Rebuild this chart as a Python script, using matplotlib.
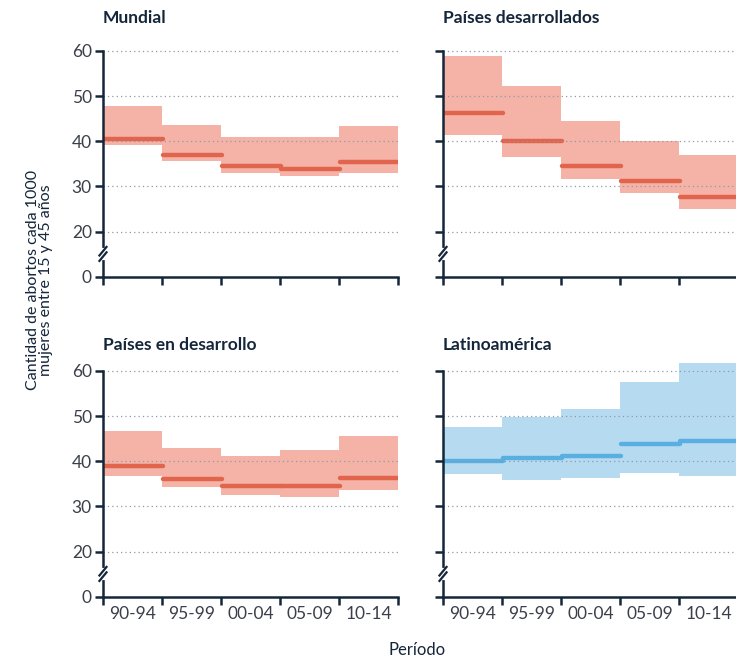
import numpy as np
import matplotlib
matplotlib.use('Agg')
import matplotlib.pyplot as plt

plt.rcParams['font.family'] = ['Lato', 'DejaVu Sans']

# datos
periodos = ['90-94', '95-99', '00-04', '05-09', '10-14']

mundial = [40.4, 36.9, 34.5, 33.9, 35.3]
mundial_lo = [39.2, 35.6, 32.9, 32.3, 33.0]
mundial_hi = [47.8, 43.5, 41.0, 41.0, 43.4]

desarrollados = [46.3, 40.1, 34.6, 31.1, 27.7]
desarrollados_lo = [41.3, 36.6, 31.7, 28.5, 24.9]
desarrollados_hi = [58.8, 52.3, 44.6, 40.1, 36.9]

en_desarrollo = [39.0, 36.1, 34.5, 34.5, 36.4]
en_desarrollo_lo = [36.8, 34.3, 32.5, 32.0, 33.6]
en_desarrollo_hi = [46.8, 42.9, 41.2, 42.4, 45.7]

latam = [40.1, 40.7, 41.2, 43.8, 44.6]
latam_lo = [37.2, 35.9, 36.3, 37.4, 36.7]
latam_hi = [47.7, 49.7, 51.6, 57.5, 63.0]

ytick_vals = [10, 20, 30, 40, 50, 60]   # 10 = posición del 0 (eje cortado)
ytick_labels = ['0', '20', '30', '40', '50', '60']

NAVY = '#15263b'
ROJO, ROJO_BANDA = '#e1644d', '#f4b3a6'
AZUL, AZUL_BANDA = '#5aafe2', '#b6dbf1'

fig = plt.figure(figsize=(7.36, 6.59), dpi=100)

paneles = [
    ('Mundial', mundial, mundial_lo, mundial_hi, ROJO, ROJO_BANDA, [0.1399, 0.5801, 0.4008, 0.3542], True, False),
    ('Países desarrollados', desarrollados, desarrollados_lo, desarrollados_hi, ROJO, ROJO_BANDA, [0.6019, 0.5801, 0.4008, 0.3542], False, False),
    ('Países en desarrollo', en_desarrollo, en_desarrollo_lo, en_desarrollo_hi, ROJO, ROJO_BANDA, [0.1399, 0.0945, 0.4008, 0.3542], True, True),
    ('Latinoamérica', latam, latam_lo, latam_hi, AZUL, AZUL_BANDA, [0.6019, 0.0945, 0.4008, 0.3542], False, True),
]

for titulo, val, lo, hi, col, col_banda, pos, ylab, xlab in paneles:
    ax = fig.add_axes(pos)
    for i in range(len(periodos)):
        ax.fill_between([i, i + 1], lo[i], hi[i], color=col_banda, lw=0, zorder=1)
        ax.plot([i + 0.02, i + 1.02], [val[i], val[i]], color=col, lw=3.2,
                solid_capstyle='round', zorder=2)
    for g in ytick_vals[1:]:
        ax.axhline(g, color='#8f99a8', lw=0.9, ls=(0, (1, 2.5)), zorder=3)

    ax.set_xlim(0, 5)
    ax.set_ylim(10, 61.7)
    for s in ['top', 'right']:
        ax.spines[s].set_visible(False)
    for s in ['left', 'bottom']:
        ax.spines[s].set_color(NAVY)
        ax.spines[s].set_linewidth(1.8)
        ax.spines[s].set_zorder(4)
    ax.spines['left'].set_bounds(10, 60)

    ax.set_yticks(ytick_vals)
    ax.set_yticklabels(ytick_labels if ylab else [])
    ax.set_xticks(range(6))
    ax.set_xticklabels([])
    ax.set_xticks(np.arange(5) + 0.5, minor=True)
    ax.set_xticklabels(periodos if xlab else [], minor=True)
    ax.tick_params(axis='both', which='major', color=NAVY, width=1.8, length=6,
                   labelsize=12.5, labelcolor='#3b3f4a', pad=2)
    ax.tick_params(axis='x', which='minor', length=0, labelsize=12.5,
                   labelcolor='#3b3f4a', pad=7)

    # corte del eje
    tr = ax.get_yaxis_transform()
    ax.plot([0, 0], [14.2, 16.0], color='white', lw=3, transform=tr, clip_on=False, zorder=5)
    for y0 in [13.5, 14.7]:
        ax.plot([-0.012, 0.012], [y0, y0 + 1.9], color=NAVY, lw=1.6,
                transform=tr, clip_on=False, zorder=6)

    fig.text(pos[0], pos[1] + pos[3] + (0.039 if pos[1] > 0.5 else 0.028), titulo,
             fontsize=12.5, fontweight='bold', color=NAVY, ha='left', va='center')

fig.text(0.054, 0.575, 'Cantidad de abortos cada 1000\nmujeres entre 15 y 45 años',
         rotation=90, fontsize=11.5, color=NAVY, ha='center', va='center', linespacing=0.9)
fig.text(0.566, 0.0137, 'Período', fontsize=12, color=NAVY, ha='center', va='center')

fig.savefig('out.png', dpi=100)
